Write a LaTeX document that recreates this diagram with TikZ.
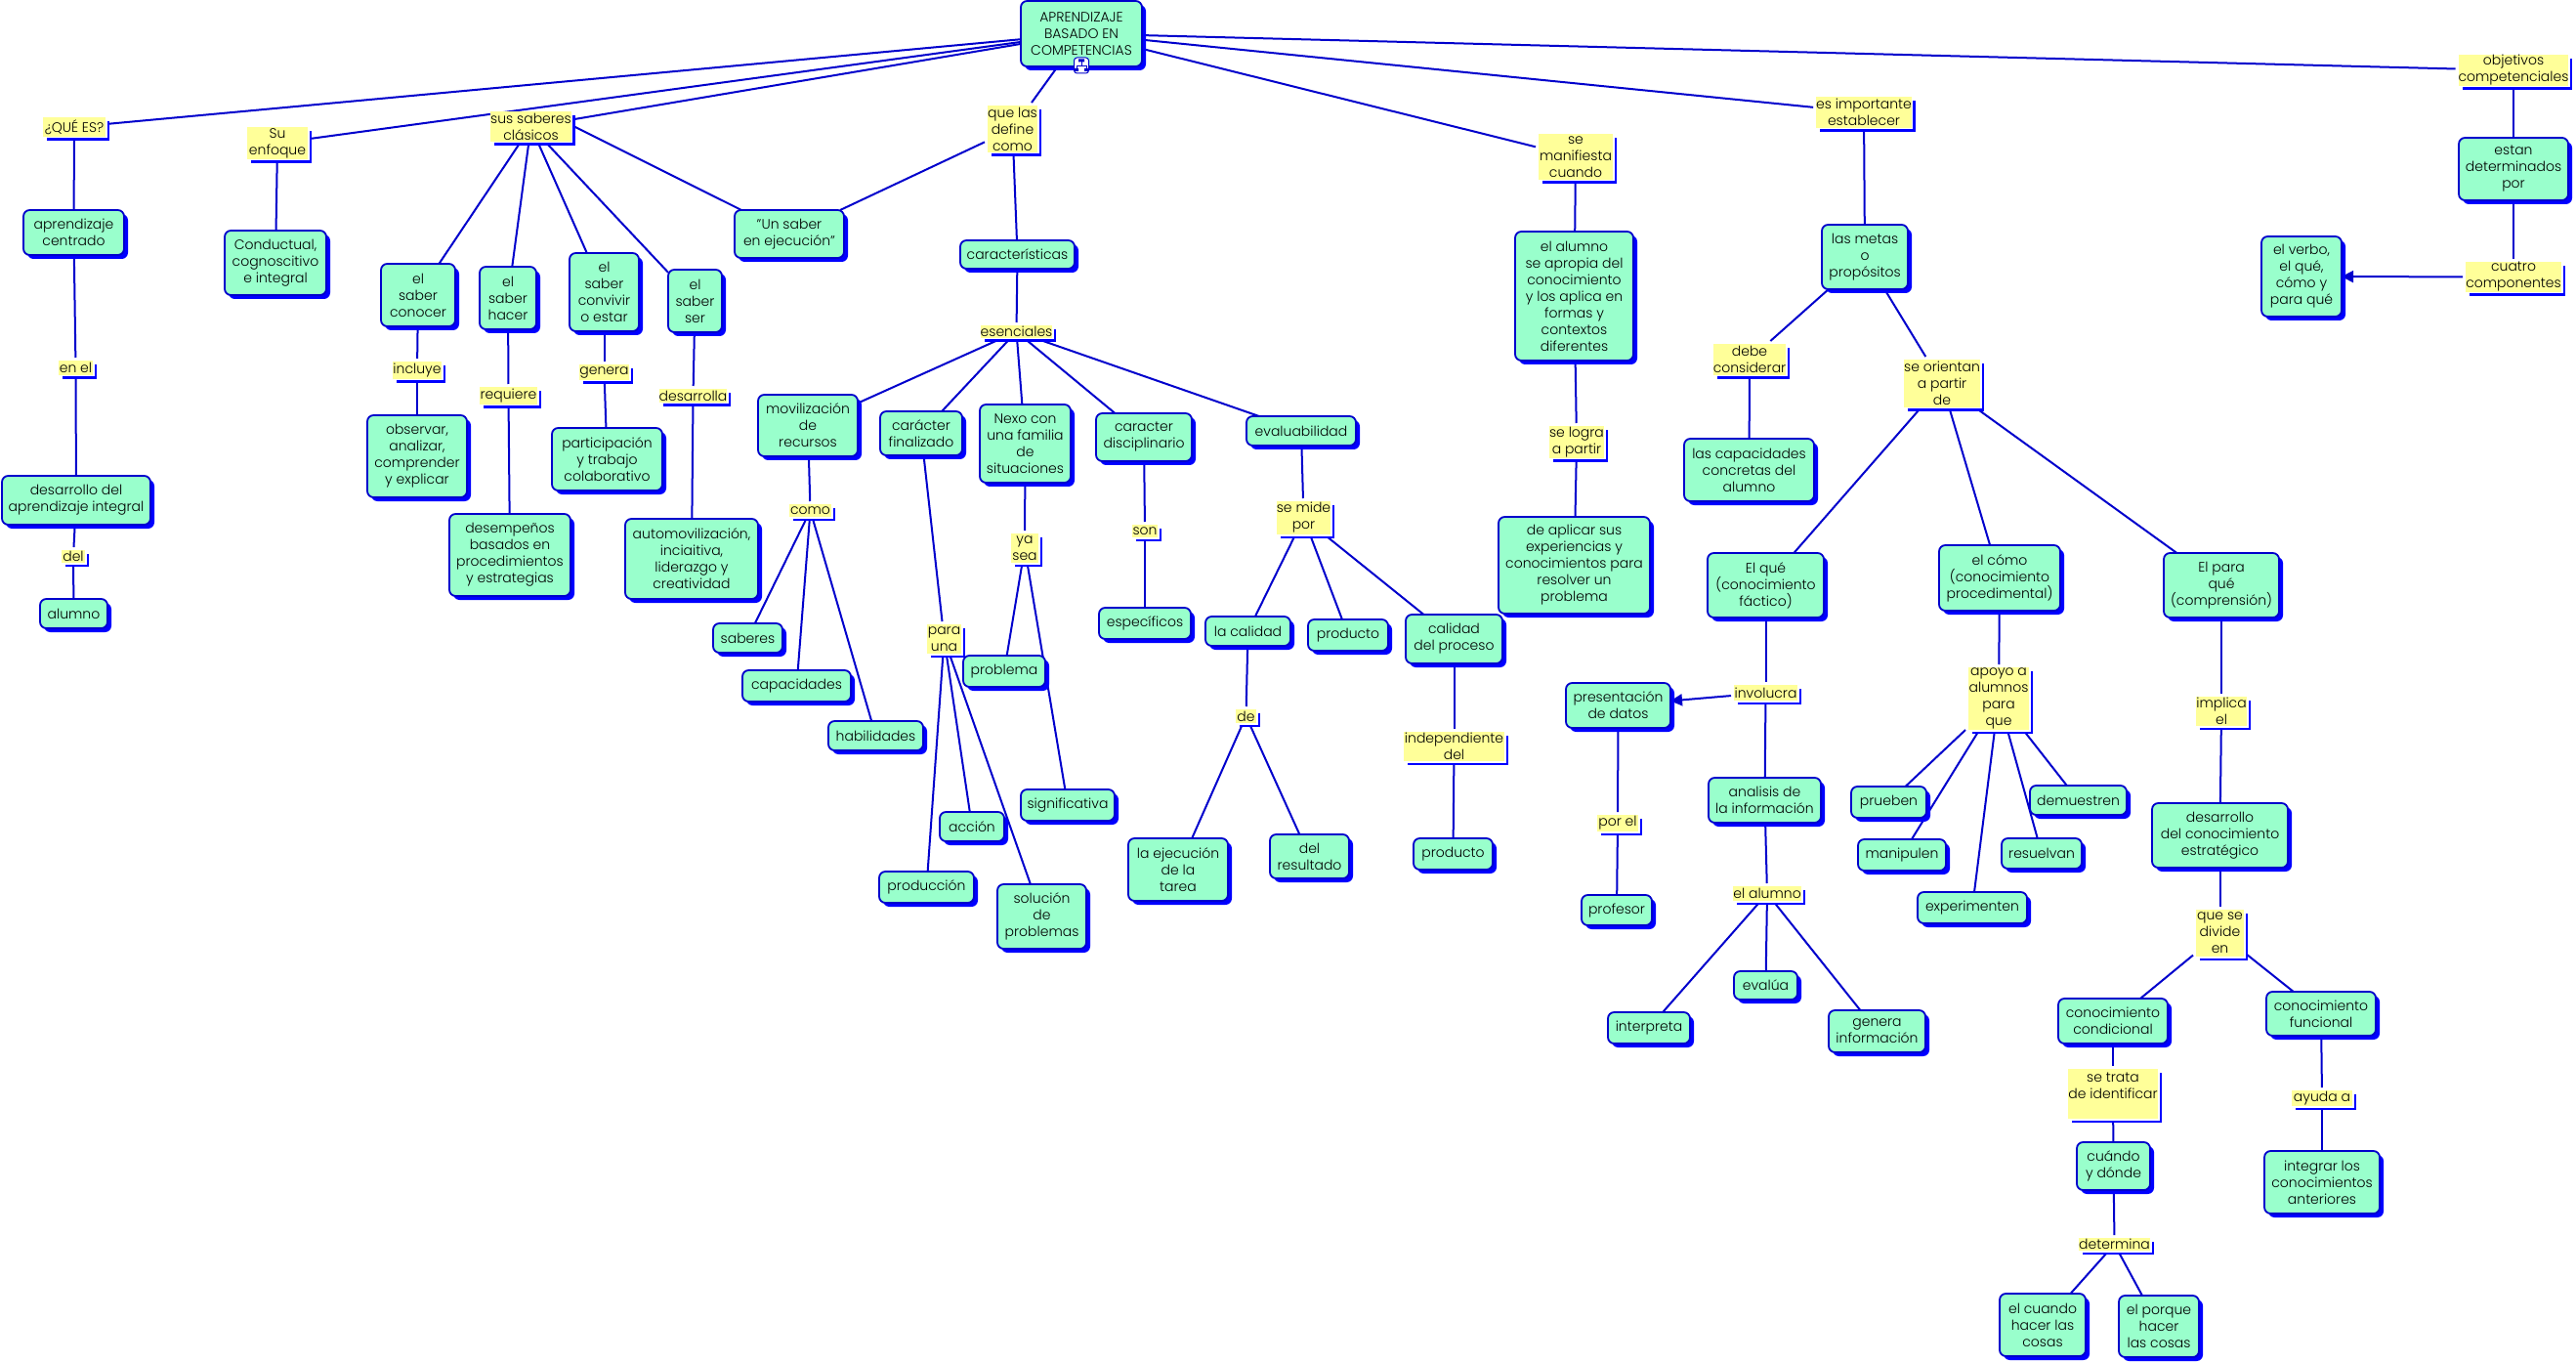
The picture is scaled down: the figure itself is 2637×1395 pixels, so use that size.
\documentclass[tikz,border=0pt]{standalone}
\usepackage{fontspec}
\setmainfont{Poppins Light}
\usetikzlibrary{positioning,arrows.meta,shadows,backgrounds}
\definecolor{conceptfill}{HTML}{99FFCC}
\definecolor{linkfill}{HTML}{FFFF99}
\definecolor{linkblue}{HTML}{0000CC}
\definecolor{shadeblue}{HTML}{0000FF}

\begin{document}
\begin{tikzpicture}[x=0.5pt,y=-0.5pt,>={Triangle[length=6pt,width=6pt]},
    sized/.style 2 args={minimum width=#1*0.5pt,minimum height=#2*0.5pt},
    concept/.style={draw=linkblue,line width=0.9pt,fill=conceptfill,rectangle,rounded corners=3.2pt,inner sep=0pt,outer sep=0pt,
      align=center,font=\fontsize{7}{8.5}\selectfont,
      general shadow={shadow xshift=2pt,shadow yshift=-2pt,fill=shadeblue}},
    linkword/.style={fill=linkfill,rectangle,inner sep=0pt,outer sep=1.5pt,
      align=center,font=\fontsize{7}{8.5}\selectfont,
      general shadow={shadow xshift=2pt,shadow yshift=-2pt,fill=shadeblue},
      general shadow={shadow xshift=0.75pt,shadow yshift=-0.75pt,fill=white}},
    conn/.style={draw=linkblue,line width=1pt}]
    \useasboundingbox (0,0) rectangle (2637,1395);

    % top
    \node[concept,sized={124}{67}] (root) at (1107,34.5) {APRENDIZAJE\\BASADO EN\\COMPETENCIAS};
    \node[linkword,sized={64}{20}] (queEs) at (76,130) {¿QUÉ ES?};
    \node[linkword,sized={62}{33}] (suEnfoque) at (284,146.5) {Su\\enfoque};
    \node[linkword,sized={79}{31}] (susSaberes) at (543.5,129.5) {sus saberes\\clásicos};
    \node[linkword,sized={51}{48}] (queDefine) at (1036.5,132) {que las\\define\\como};
    \node[linkword,sized={76}{47}] (seManifiesta) at (1613,160.5) {se\\manifiesta\\cuando};
    \node[linkword,sized={96}{32}] (esImportante) at (1908,115) {es importante\\establecer};
    \node[linkword,sized={112}{32}] (objetivos) at (2573,72) {objetivos\\competenciales};

    % left column
    \node[concept,sized={103}{46}] (apCentrado) at (75.5,238) {aprendizaje\\centrado};
    \node[linkword,sized={35}{15}] (enEl) at (77.5,376.5) {en el};
    \node[concept,sized={152}{50}] (desIntegral) at (78,512) {desarrollo del\\aprendizaje integral};
    \node[linkword,sized={24}{13}] (delWord) at (75,569.5) {del};
    \node[concept,sized={69}{30}] (alumno) at (75.5,628) {alumno};
    \node[concept,sized={104}{66}] (conductual) at (282,269) {Conductual,\\cognoscitivo\\e integral};

    % saberes
    \node[concept,sized={76}{64}] (conocer) at (428,302) {el\\saber\\conocer};
    \node[concept,sized={58}{64}] (hacer) at (520,305) {el\\saber\\hacer};
    \node[concept,sized={71}{80}] (convivir) at (618.5,299) {el\\saber\\convivir\\o estar};
    \node[concept,sized={55}{64}] (ser) at (711.5,308) {el\\saber\\ser};
    \node[concept,sized={112}{49}] (unSaber) at (808,239.5) {"Un saber\\en ejecución"};
    \node[linkword,sized={50}{18}] (incluye) at (427,379) {incluye};
    \node[linkword,sized={59}{18}] (requiere) at (520.5,405) {requiere};
    \node[linkword,sized={51}{16}] (genera) at (618.5,381) {genera};
    \node[linkword,sized={67}{14}] (desarrolla) at (709.5,405) {desarrolla};
    \node[concept,sized={102}{84}] (observar) at (427,467) {observar,\\analizar,\\comprender\\y explicar};
    \node[concept,sized={113}{64}] (participacion) at (621.5,470) {participación\\y trabajo\\colaborativo};
    \node[concept,sized={124}{84}] (desempenos) at (522,568) {desempeños\\basados en\\procedimientos\\y estrategias};
    \node[concept,sized={136}{82}] (automov) at (708,572) {automovilización,\\inciaitiva,\\liderazgo y\\creatividad};

    % caracteristicas
    \node[concept,sized={117}{29}] (caracteristicas) at (1041.5,260.5) {características};
    \node[linkword,sized={73}{13}] (esenciales) at (1040.5,339.5) {esenciales};
    \node[concept,sized={102}{63}] (movil) at (827,435.5) {movilización\\de\\recursos};
    \node[concept,sized={84}{45}] (finalizado) at (943,443.5) {carácter\\finalizado};
    \node[concept,sized={93}{80}] (nexo) at (1049.5,454) {Nexo con\\una familia\\de\\situaciones};
    \node[concept,sized={98}{49}] (disciplinario) at (1171,447.5) {caracter\\disciplinario};
    \node[concept,sized={112}{30}] (evaluab) at (1332,441) {evaluabilidad};
    \node[linkword,sized={43}{13}] (como) at (829.5,522.5) {como};
    \node[linkword,sized={28}{30}] (yaSea) at (1049,561) {ya\\sea};
    \node[linkword,sized={26}{13}] (son) at (1172,543.5) {son};
    \node[linkword,sized={55}{34}] (seMide) at (1334.5,530) {se mide\\por};
    \node[linkword,sized={35}{30}] (paraUna) at (966.5,654) {para\\una};
    \node[concept,sized={71}{30}] (saberes) at (765.5,653) {saberes};
    \node[concept,sized={111}{32}] (capacidades) at (815.5,702) {capacidades};
    \node[concept,sized={97}{30}] (habilidades) at (896.5,753) {habilidades};
    \node[concept,sized={84}{32}] (problema) at (1028,687) {problema};
    \node[concept,sized={94}{32}] (especificos) at (1172,638) {específicos};
    \node[concept,sized={87}{30}] (laCalidad) at (1277.5,646) {la calidad};
    \node[concept,sized={82}{32}] (productoA) at (1380,650) {producto};
    \node[concept,sized={99}{50}] (calProceso) at (1488.5,654) {calidad\\del proceso};
    \node[linkword,sized={21}{14}] (deWord) at (1275.5,733) {de};
    \node[linkword,sized={103}{30}] (independiente) at (1488.5,764) {independiente\\del};
    \node[concept,sized={96}{32}] (significativa) at (1093,824) {significativa};
    \node[concept,sized={66}{30}] (accion) at (995,846) {acción};
    \node[concept,sized={97}{32}] (produccion) at (948.5,908) {producción};
    \node[concept,sized={91}{66}] (solucion) at (1066.5,938) {solución\\de\\problemas};
    \node[concept,sized={102}{64}] (ejecucion) at (1206,890) {la ejecución\\de la\\tarea};
    \node[concept,sized={81}{45}] (resultado) at (1340.5,876.5) {del\\resultado};
    \node[concept,sized={81}{32}] (productoB) at (1487.5,874) {producto};

    % manifiesta
    \node[concept,sized={121}{132}] (alumnoAp) at (1611.5,303) {el alumno\\se apropia del\\conocimiento\\y los aplica en\\formas y\\contextos\\diferentes};
    \node[linkword,sized={56}{33}] (seLogra) at (1614,452.5) {se logra\\a partir};
    \node[concept,sized={155}{99}] (deAplicar) at (1611.5,578.5) {de aplicar sus\\experiencias y\\conocimientos para\\resolver un\\problema};

    % metas
    \node[concept,sized={88}{66}] (metas) at (1909,263) {las metas\\o\\propósitos};
    \node[linkword,sized={74}{32}] (debe) at (1791,368) {debe\\considerar};
    \node[linkword,sized={78}{49}] (orientan) at (1988,392.5) {se orientan\\a partir\\de};
    \node[concept,sized={133}{64}] (capConcretas) at (1790.5,481) {las capacidades\\concretas del\\alumno};
    \node[concept,sized={119}{66}] (elQue) at (1807.5,599) {El qué\\(conocimiento\\fáctico)};
    \node[concept,sized={124}{67}] (elComo) at (2047,591.5) {el cómo\\(conocimiento\\procedimental)};
    \node[concept,sized={118}{66}] (elPara) at (2274,599) {El para\\qué\\(comprensión)};

    % el que
    \node[concept,sized={107}{46}] (presentacion) at (1656.5,722) {presentación\\de datos};
    \node[linkword,sized={65}{16}] (involucra) at (1807.5,709) {involucra};
    \node[concept,sized={115}{46}] (analisis) at (1806.5,819) {analisis de\\la información};
    \node[linkword,sized={42}{17}] (porEl) at (1656,842.5) {por el};
    \node[concept,sized={72}{31}] (profesor) at (1655,931.5) {profesor};
    \node[linkword,sized={70}{15}] (alumnoWord) at (1809,914.5) {el alumno};
    \node[concept,sized={84}{32}] (interpreta) at (1688,1052) {interpreta};
    \node[concept,sized={65}{29}] (evalua) at (1807.5,1008.5) {evalúa};
    \node[concept,sized={99}{43}] (generaInfo) at (1921.5,1055.5) {genera\\información};

    % el como
    \node[linkword,sized={62}{64}] (apoyo) at (2046,715) {apoyo a\\alumnos\\para\\que};
    \node[concept,sized={77}{32}] (prueben) at (1933.5,821) {prueben};
    \node[concept,sized={99}{30}] (demuestren) at (2127.5,819) {demuestren};
    \node[concept,sized={90}{32}] (manipulen) at (1947,875) {manipulen};
    \node[concept,sized={82}{31}] (resuelvan) at (2090,873.5) {resuelvan};
    \node[concept,sized={112}{32}] (experimenten) at (2019,929) {experimenten};

    % el para
    \node[linkword,sized={52}{30}] (implica) at (2274,728) {implica\\el};
    \node[concept,sized={139}{66}] (desEstrategico) at (2272.5,855) {desarrollo\\del conocimiento\\estratégico};
    \node[linkword,sized={49}{48}] (queDivide) at (2272.5,955) {que se\\divide\\en};
    \node[concept,sized={112}{46}] (condicional) at (2163,1045) {conocimiento\\condicional};
    \node[concept,sized={112}{45}] (funcional) at (2376,1037.5) {conocimiento\\funcional};
    \node[linkword,sized={92}{51}] (seTrata) at (2163,1119.5) {se trata\\de identificar\\~};
    \node[linkword,sized={62}{16}] (ayuda) at (2377,1124) {ayuda a};
    \node[concept,sized={75}{49}] (cuandoDonde) at (2163.5,1193.5) {cuándo\\y dónde};
    \node[concept,sized={118}{64}] (integrar) at (2377,1210) {integrar los\\conocimientos\\anteriores};
    \node[linkword,sized={73}{13}] (determina) at (2164.5,1273.5) {determina};
    \node[concept,sized={88}{64}] (elCuando) at (2091,1356) {el cuando\\hacer las\\cosas};
    \node[concept,sized={82}{63}] (elPorque) at (2210,1357.5) {el porque\\hacer\\las cosas};

    % objetivos
    \node[concept,sized={112}{64}] (determinados) at (2573,173) {estan\\determinados\\por};
    \node[linkword,sized={98}{31}] (cuatro) at (2573,283.5) {cuatro\\componentes};
    \node[concept,sized={82}{82}] (verbo) at (2356,283) {el verbo,\\el qué,\\cómo y\\para qué};

    % icon on the root
    \node[draw=linkblue,fill=white,rounded corners=1.5pt,line width=0.5pt,minimum width=7.5pt,minimum height=8pt,inner sep=0pt] (icon) at (1107,67) {};
    \draw[linkblue,line width=0.4pt] (1107,63) -- (1107,67) (1102,70) -- (1102,67) -- (1112,67) -- (1112,70);
    \fill[linkblue] (1104,60.5) rectangle (1110,63.5) (1100,70) rectangle (1104,73) (1110,70) rectangle (1114,73);

    \begin{scope}[on background layer]
    \draw[conn] (root) -- (queEs);
    \draw[conn] (root) -- (suEnfoque);
    \draw[conn] (root) -- (susSaberes);
    \draw[conn] (root) -- (queDefine);
    \draw[conn] (root) -- (seManifiesta);
    \draw[conn] (root) -- (esImportante);
    \draw[conn] (root) -- (objetivos);
    \draw[conn] (queEs) -- (apCentrado);
    \draw[conn] (apCentrado) -- (enEl);
    \draw[conn] (enEl) -- (desIntegral);
    \draw[conn] (desIntegral) -- (delWord);
    \draw[conn] (delWord) -- (alumno);
    \draw[conn] (suEnfoque) -- (conductual);
    \draw[conn] (susSaberes) -- (conocer);
    \draw[conn] (susSaberes) -- (hacer);
    \draw[conn] (susSaberes) -- (convivir);
    \draw[conn] (susSaberes) -- (ser);
    \draw[conn] (susSaberes.east) -- (unSaber);
    \draw[conn] (queDefine) -- (unSaber);
    \draw[conn] (conocer) -- (incluye);
    \draw[conn] (incluye) -- (observar);
    \draw[conn] (hacer) -- (requiere);
    \draw[conn] (requiere) -- (desempenos);
    \draw[conn] (convivir) -- (genera);
    \draw[conn] (genera) -- (participacion);
    \draw[conn] (ser) -- (desarrolla);
    \draw[conn] (desarrolla) -- (automov);
    \draw[conn] (queDefine) -- (caracteristicas);
    \draw[conn] (caracteristicas) -- (esenciales);
    \draw[conn] (esenciales) -- (movil);
    \draw[conn] (esenciales) -- (finalizado);
    \draw[conn] (esenciales) -- (nexo);
    \draw[conn] (esenciales) -- (disciplinario);
    \draw[conn] (esenciales) -- (evaluab);
    \draw[conn] (movil) -- (como);
    \draw[conn] (como) -- (saberes);
    \draw[conn] (como) -- (capacidades);
    \draw[conn] (como) -- (habilidades);
    \draw[conn] (finalizado) -- (paraUna);
    \draw[conn] (paraUna) -- (produccion);
    \draw[conn] (paraUna) -- (accion);
    \draw[conn] (paraUna) -- (solucion);
    \draw[conn] (nexo) -- (yaSea);
    \draw[conn] (yaSea) -- (problema);
    \draw[conn] (yaSea) -- (significativa);
    \draw[conn] (disciplinario) -- (son);
    \draw[conn] (son) -- (especificos);
    \draw[conn] (evaluab) -- (seMide);
    \draw[conn] (seMide) -- (laCalidad);
    \draw[conn] (seMide) -- (productoA);
    \draw[conn] (seMide) -- (calProceso);
    \draw[conn] (laCalidad) -- (deWord);
    \draw[conn] (deWord) -- (ejecucion);
    \draw[conn] (deWord) -- (resultado);
    \draw[conn] (calProceso) -- (independiente);
    \draw[conn] (independiente) -- (productoB);
    \draw[conn] (seManifiesta) -- (alumnoAp);
    \draw[conn] (alumnoAp) -- (seLogra);
    \draw[conn] (seLogra) -- (deAplicar);
    \draw[conn] (esImportante) -- (metas);
    \draw[conn] (metas) -- (debe);
    \draw[conn] (debe) -- (capConcretas);
    \draw[conn] (metas) -- (orientan);
    \draw[conn] (orientan) -- (elQue);
    \draw[conn] (orientan) -- (elComo);
    \draw[conn] (orientan) -- (elPara);
    \draw[conn] (elQue) -- (involucra);
    \draw[conn,->] (involucra) -- (presentacion);
    \draw[conn] (involucra) -- (analisis);
    \draw[conn] (presentacion) -- (porEl);
    \draw[conn] (porEl) -- (profesor);
    \draw[conn] (analisis) -- (alumnoWord);
    \draw[conn] (alumnoWord) -- (interpreta);
    \draw[conn] (alumnoWord) -- (evalua);
    \draw[conn] (alumnoWord) -- (generaInfo);
    \draw[conn] (elComo) -- (apoyo);
    \draw[conn] (apoyo) -- (prueben);
    \draw[conn] (apoyo) -- (manipulen);
    \draw[conn] (apoyo) -- (experimenten);
    \draw[conn] (apoyo) -- (resuelvan);
    \draw[conn] (apoyo) -- (demuestren);
    \draw[conn] (elPara) -- (implica);
    \draw[conn] (implica) -- (desEstrategico);
    \draw[conn] (desEstrategico) -- (queDivide);
    \draw[conn] (queDivide) -- (condicional);
    \draw[conn] (queDivide) -- (funcional);
    \draw[conn] (condicional) -- (seTrata);
    \draw[conn] (seTrata) -- (cuandoDonde);
    \draw[conn] (cuandoDonde) -- (determina);
    \draw[conn] (determina) -- (elCuando);
    \draw[conn] (determina) -- (elPorque);
    \draw[conn] (funcional) -- (ayuda);
    \draw[conn] (ayuda) -- (integrar);
    \draw[conn] (objetivos) -- (determinados);
    \draw[conn] (determinados) -- (cuatro);
    \draw[conn,->] (cuatro) -- (verbo);
    \end{scope}
\end{tikzpicture}
\end{document}
